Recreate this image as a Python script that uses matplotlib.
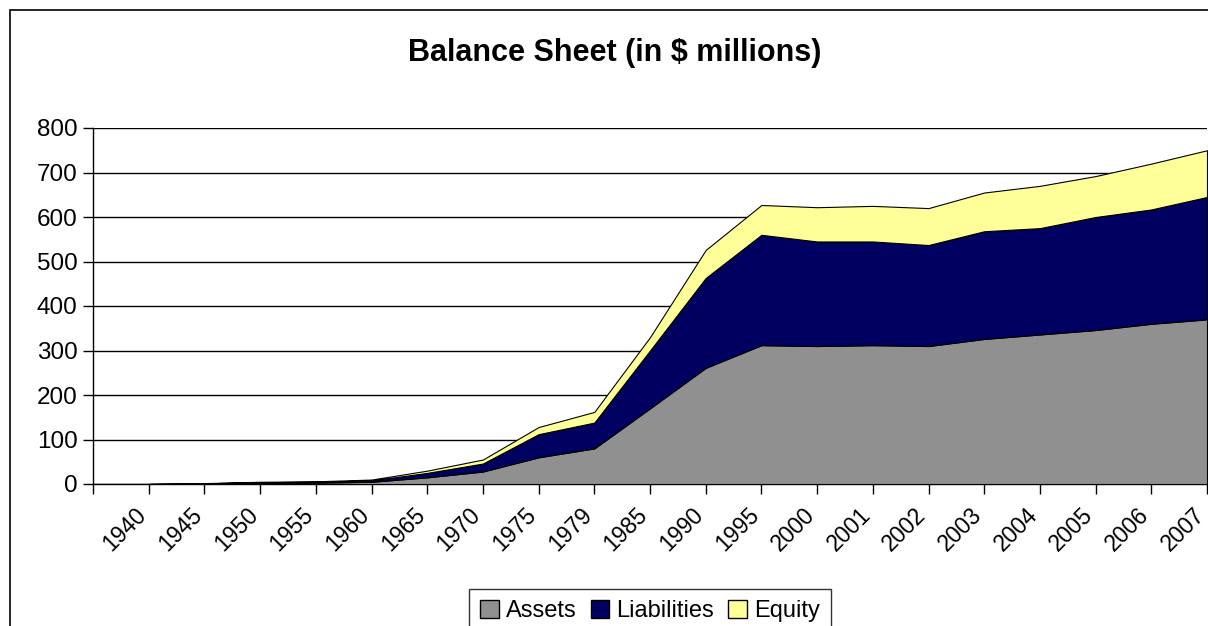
import matplotlib
matplotlib.use("Agg")
import matplotlib.pyplot as plt
import matplotlib.transforms as mtransforms
import numpy as np
from matplotlib.patches import Rectangle, Patch

# category labels and stacked series
years = ["1940", "1945", "1950", "1955", "1960", "1965", "1970", "1975", "1979", "1985",
         "1990", "1995", "2000", "2001", "2002", "2003", "2004", "2005", "2006", "2007"]
assets = [0, 1, 2, 3, 5, 15, 28, 60, 80, 170, 261, 312, 310, 312, 310, 326, 336, 346, 360, 370]
liabilities = [0, 0.5, 2, 2, 3, 10, 18, 52, 58, 130, 202, 248, 235, 233, 227, 242, 239, 254, 257, 275]
equity = [0, 0.5, 1, 1, 2, 5, 9, 16, 24, 30, 63, 67, 77, 80, 83, 87, 95, 92, 103, 105]

series_names = ["Assets", "Liabilities", "Equity"]
colors = ["#909090", "#000060", "#FFFF99"]

plt.rcParams["font.family"] = ["Liberation Sans", "DejaVu Sans"]

fig = plt.figure(figsize=(12.08, 6.26), dpi=100)
ax = fig.add_axes([93 / 1208, 1 - 484 / 626, (1207 - 93) / 1208, (484 - 128) / 626])

x = np.arange(1, len(years) + 1)
ax.stackplot(x, assets, liabilities, equity, colors=colors,
             edgecolor="black", linewidth=0.8, zorder=3)

ax.set_xlim(0, len(years))
ax.set_ylim(0, 800)
ax.set_yticks(range(0, 801, 100))
ax.yaxis.grid(True, color="black", linewidth=1.0, zorder=0)
ax.set_axisbelow(True)

ax.set_xticks(np.arange(0, len(years) + 1))
ax.set_xticklabels([""] + years, rotation=45, ha="right", va="top",
                   rotation_mode="anchor", fontsize=16.5)
ax.tick_params(axis="x", direction="out", length=7, width=1, color="black", pad=7)
ax.tick_params(axis="y", direction="out", length=7, width=1, color="black",
               labelsize=17.5, pad=4)
shift = mtransforms.ScaledTranslation(-14 / 100, 0, fig.dpi_scale_trans)
for lbl in ax.get_xticklabels():
    lbl.set_transform(lbl.get_transform() + shift)

for side in ["top", "right"]:
    ax.spines[side].set_visible(False)
ax.spines["left"].set_linewidth(1)
ax.spines["bottom"].set_linewidth(1)

fig.text(615 / 1208, 1 - 53 / 626, "Balance Sheet (in $ millions)", ha="center",
         va="center", fontsize=22, fontweight="bold")

handles = [Patch(facecolor=c, edgecolor="black", linewidth=1) for c in colors]
fig.legend(handles, series_names, loc="upper center", bbox_to_anchor=(650 / 1208, 1 - 589 / 626),
           ncol=3, fontsize=17, frameon=True, fancybox=False, edgecolor="black",
           handlelength=0.8, handleheight=0.8, handletextpad=0.3, columnspacing=0.6,
           borderpad=0.45, borderaxespad=0)

# chart-area border
fig.patches.append(Rectangle((10 / 1208, -0.05), 1.1, 1 - 10 / 626 + 0.05,
                             transform=fig.transFigure, fill=False,
                             edgecolor="black", linewidth=1.2))

fig.savefig("out.png", dpi=100)
